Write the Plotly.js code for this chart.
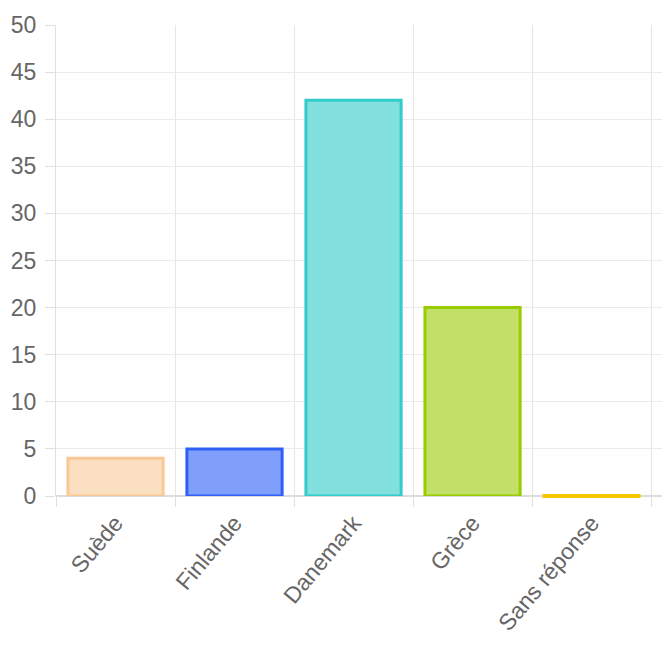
<!DOCTYPE html>
<html>
<head>
<meta charset="utf-8">
<script src="https://cdn.plot.ly/plotly-3.0.1.min.js"></script>
<style>html,body{margin:0;padding:0;background:#fff;overflow:hidden}#chart{width:662px;height:662px}</style>
</head>
<body>
<div id="chart"></div>
<script>
const categories = ["Suède", "Finlande", "Danemark", "Grèce", "Sans réponse"];
const values = [4, 5, 42, 20, 0];
const fillColors = ["#fbdfc2", "#809ffb", "#82e0de", "#c2e068", "#f8cf33"];
const borderColors = ["#f9c894", "#2f5ff5", "#33cccc", "#99cc00", "#f5c800"];
const yTicks = [0, 5, 10, 15, 20, 25, 30, 35, 40, 45, 50];

const barWidth = 0.8;
const xRange = [-0.5, 4.592];
const yRange = [0, 50];

const traces = [{
  type: "bar",
  x: categories,
  y: values,
  width: barWidth,
  marker: {
    color: fillColors,
    line: { color: borderColors, width: 3 }
  },
  hoverinfo: "x+y"
}];

// zero-height bars are not drawn by Plotly; show their border as a line
const shapes = [];
values.forEach((v, i) => {
  if (v === 0) {
    const yp = (v - yRange[0]) / (yRange[1] - yRange[0]);
    shapes.push({
      type: "line", xref: "x", yref: "paper",
      x0: i - barWidth / 2 - 0.012, x1: i + barWidth / 2 + 0.012,
      y0: yp, y1: yp,
      line: { color: borderColors[i], width: 4 },
      layer: "above"
    });
  }
});

const fs = 23;
const layout = {
  width: 662, height: 662,
  margin: { l: 56, r: 0, t: 25, b: 166 },
  paper_bgcolor: "#fff", plot_bgcolor: "#fff",
  font: { family: "Liberation Sans, Arial, Helvetica, sans-serif", color: "#666", size: fs },
  showlegend: false,
  bargap: 0.2,
  shapes: shapes,
  xaxis: {
    type: "category",
    range: xRange,
    tickson: "boundaries",
    showgrid: true, gridcolor: "#e6e6e6", gridwidth: 1,
    ticks: "outside", ticklen: 10, tickcolor: "#e0e0e0", tickwidth: 1,
    tickangle: -50,
    ticklabelstandoff: 8,
    tickfont: { size: fs, color: "#666" },
    showline: false, zeroline: false,
    fixedrange: true
  },
  yaxis: {
    range: yRange,
    tickvals: yTicks,
    ticktext: yTicks.map(String),
    showgrid: true, gridcolor: "#ebebeb", gridwidth: 1,
    zeroline: true, zerolinecolor: "#dcdcdc", zerolinewidth: 1.5,
    ticks: "outside", ticklen: 10, tickcolor: "#e0e0e0", tickwidth: 1,
    ticklabelstandoff: 4,
    tickfont: { size: fs, color: "#666" },
    showline: true, linecolor: "#e0e0e0", linewidth: 1,
    fixedrange: true
  }
};

Plotly.newPlot("chart", traces, layout, { displayModeBar: false, staticPlot: true });
</script>
</body>
</html>
